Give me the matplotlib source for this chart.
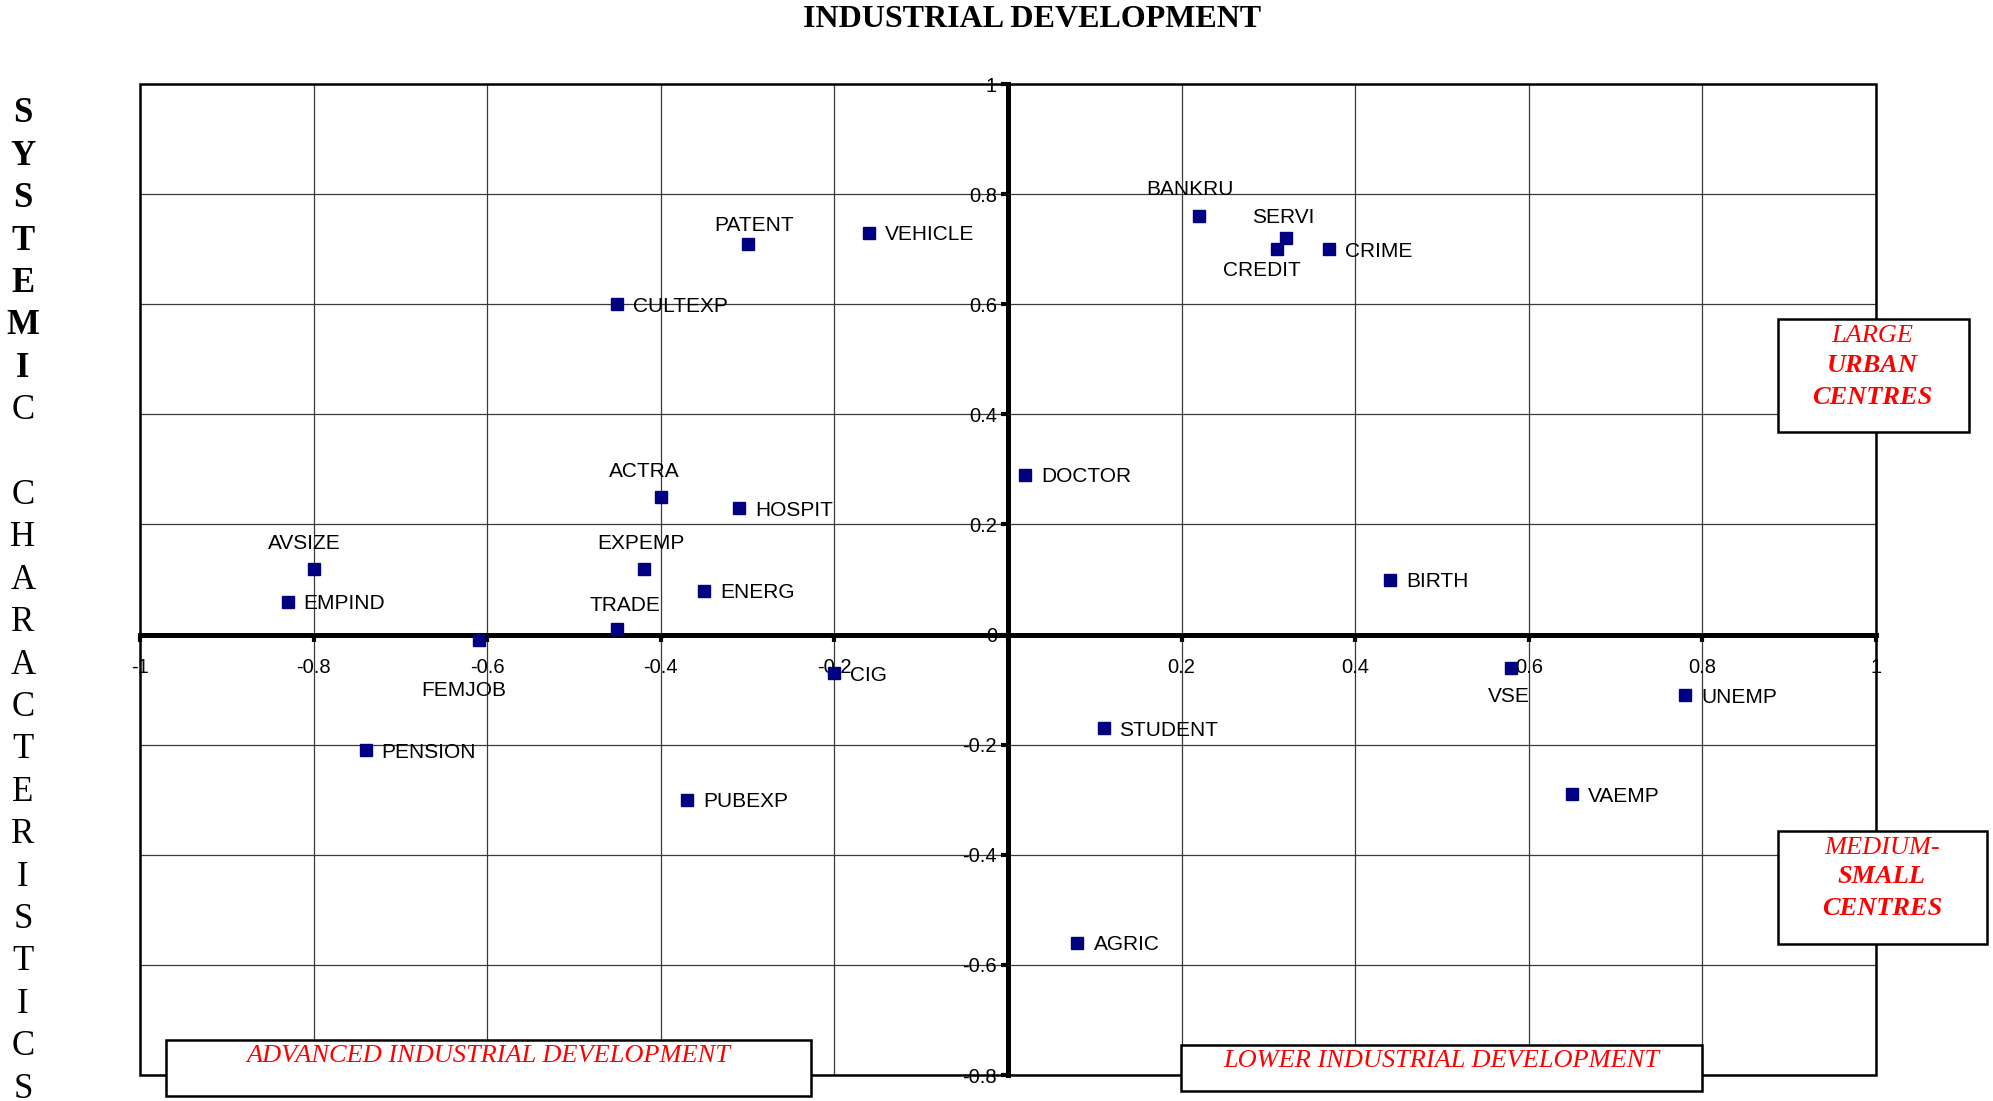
import matplotlib
matplotlib.use("Agg")
import matplotlib.pyplot as plt
from matplotlib.patches import Rectangle
import numpy as np

# ── Data ──────────────────────────────────────────────────────────────────────
names = ["PATENT", "VEHICLE", "CULTEXP", "BANKRU", "SERVI", "CREDIT", "CRIME",
         "DOCTOR", "ACTRA", "HOSPIT", "AVSIZE", "EMPIND", "EXPEMP", "ENERG",
         "TRADE", "FEMJOB", "BIRTH", "CIG", "VSE", "UNEMP", "STUDENT",
         "PENSION", "PUBEXP", "VAEMP", "AGRIC"]
x_vals = [-0.30, -0.16, -0.45, 0.22, 0.32, 0.31, 0.37,
          0.02, -0.40, -0.31, -0.80, -0.83, -0.42, -0.35,
          -0.45, -0.61, 0.44, -0.20, 0.58, 0.78, 0.11,
          -0.74, -0.37, 0.65, 0.08]
y_vals = [0.71, 0.73, 0.60, 0.76, 0.72, 0.70, 0.70,
          0.29, 0.25, 0.23, 0.12, 0.06, 0.12, 0.08,
          0.01, -0.01, 0.10, -0.07, -0.06, -0.11, -0.17,
          -0.21, -0.30, -0.29, -0.56]

x_ticks = [-1, -0.8, -0.6, -0.4, -0.2, 0, 0.2, 0.4, 0.6, 0.8, 1]
x_ticklabels = ["-1", "-0.8", "-0.6", "-0.4", "-0.2", "", "0.2", "0.4", "0.6", "0.8", "1"]
y_ticks = [-0.8, -0.6, -0.4, -0.2, 0, 0.2, 0.4, 0.6, 0.8, 1]
y_ticklabels = ["-0.8", "-0.6", "-0.4", "-0.2", "0", "0.2", "0.4", "0.6", "0.8", "1"]

title = "INDUSTRIAL DEVELOPMENT"
side_label = "SYSTEMIC CHARACTERISTICS"

# label placement (offset in points from the marker, alignment)
R = (11.5, -1.5, "left")
label_place = {
    "PATENT": (4.5, 13, "center"), "BANKRU": (-6.5, 19, "center"),
    "SERVI": (-2, 15, "center"), "CREDIT": (-11, -15.5, "center"),
    "ACTRA": (-12, 18, "center"), "AVSIZE": (-6.5, 18, "center"),
    "EXPEMP": (-2, 18, "center"), "TRADE": (5.5, 17, "center"),
    "FEMJOB": (-11, -36.5, "center"), "VSE": (-2, -21, "center"),
}

SANS = "Liberation Sans"
SERIF = "Liberation Serif"
RED = "#ff0000"

# ── Figure ────────────────────────────────────────────────────────────────────
fig = plt.figure(figsize=(19.93, 11.01), dpi=100)
ax = fig.add_axes([0.0703, 0.0236, 0.871, 0.9001])
ax.set_xlim(-1, 1)
ax.set_ylim(-0.8, 1)

ax.set_xticks(x_ticks, x_ticklabels)
ax.set_yticks(y_ticks, y_ticklabels)
ax.tick_params(labelsize=14.5, labelfontfamily=SANS)
ax.grid(True, color="#3a3a3a", lw=0.9)
ax.set_axisbelow(True)

for side in ("top", "right"):
    ax.spines[side].set_visible(False)
ax.spines["left"].set_position("zero")
ax.spines["bottom"].set_position("zero")
ax.spines["left"].set_linewidth(3.6)
ax.spines["bottom"].set_linewidth(3.6)
ax.spines["left"].set_zorder(3)
ax.spines["bottom"].set_zorder(3)
ax.tick_params(axis="x", direction="out", length=5, width=3, pad=12)
ax.tick_params(axis="y", direction="out", length=5, width=3, pad=3)

# outer frame
ax.add_patch(Rectangle((0, 0), 1, 1, transform=ax.transAxes, fill=False,
                       ec="black", lw=1.8, clip_on=False, zorder=2))

ax.plot(x_vals, y_vals, "s", color="#000080", ms=8, zorder=6, clip_on=False)

for name, x, y in zip(names, x_vals, y_vals):
    dx, dy, ha = label_place.get(name, R)
    ax.annotate(name, (x, y), xytext=(dx, dy), textcoords="offset points",
                ha=ha, va="center", family=SANS, fontsize=15, zorder=7)

# ── Titles ────────────────────────────────────────────────────────────────────
fig.text(0.518, 0.982, title, ha="center", va="center", family=SERIF,
         fontweight="bold", fontsize=23)

for i, ch in enumerate(side_label):
    fig.text(0.0115, 1 - (114 + i * 42.4) / 1101, ch, ha="center", va="center",
             family=SERIF, fontsize=25, fontweight="bold" if i < 7 else "normal")

# ── Quadrant boxes ────────────────────────────────────────────────────────────
boxes = [(0.8921, 0.6076, 0.0958, 0.1026), (0.8921, 0.1426, 0.1049, 0.1026),
         (0.0833, 0.0045, 0.3236, 0.0509), (0.5926, 0.0091, 0.2614, 0.0418)]
for x0, y0, w, h in boxes:
    fig.add_artist(Rectangle((x0, y0), w, h, transform=fig.transFigure,
                             fc="white", ec="black", lw=1.8, zorder=8))

box_text = [
    (0.9393, 0.695, "LARGE", "normal"), (0.9393, 0.668, "URBAN", "bold"),
    (0.9393, 0.639, "CENTRES", "bold"),
    (0.9443, 0.2298, "MEDIUM-", "normal"), (0.9443, 0.2035, "SMALL", "bold"),
    (0.9443, 0.1744, "CENTRES", "bold"),
    (0.2449, 0.0409, "ADVANCED INDUSTRIAL DEVELOPMENT", "normal"),
    (0.7231, 0.0363, "LOWER INDUSTRIAL DEVELOPMENT", "normal"),
]
for x, y, s, wt in box_text:
    fig.text(x, y, s, ha="center", va="center", family=SERIF, style="italic",
             fontweight=wt, fontsize=19, color=RED, zorder=9)

fig.savefig("out.png", dpi=100)
